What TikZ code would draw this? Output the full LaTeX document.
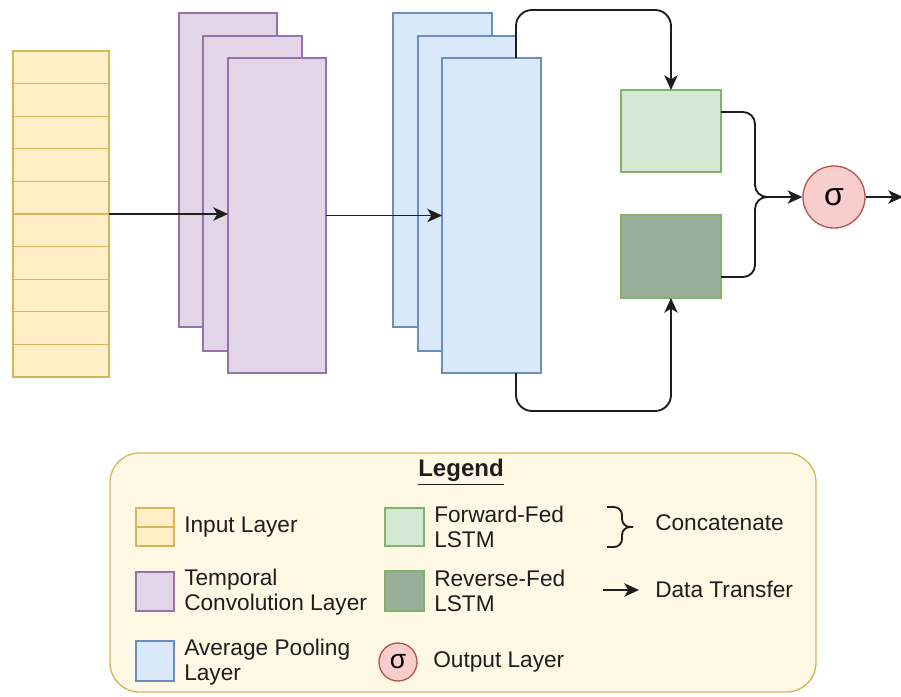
\documentclass[tikz,border=0pt]{standalone}
\usepackage{fontspec}
\setmainfont{Liberation Sans}
\usetikzlibrary{arrows.meta,fit}

\definecolor{inFill}{HTML}{FFEFC8}
\definecolor{inLine}{HTML}{D6B656}
\definecolor{legFill}{HTML}{FFF8E4}
\definecolor{cvFill}{HTML}{E1D5E7}
\definecolor{cvLine}{HTML}{9673A6}
\definecolor{plFill}{HTML}{DAE8FC}
\definecolor{plLine}{HTML}{6C8EBF}
\definecolor{fwFill}{HTML}{D5E8D4}
\definecolor{rvFill}{HTML}{9AAF99}
\definecolor{lsLine}{HTML}{82B366}
\definecolor{sgFill}{HTML}{F8CECC}
\definecolor{sgLine}{HTML}{B85450}
\definecolor{ink}{HTML}{1E1E1E}

\begin{document}
\begin{tikzpicture}[x=0.75pt,y=-0.75pt,
  layer/.style={draw, line width=1pt, inner sep=0pt, outer sep=0pt},
  inbox/.style={layer, draw=inLine, fill=inFill},
  convbox/.style={layer, draw=cvLine, fill=cvFill},
  poolbox/.style={layer, draw=plLine, fill=plFill},
  fwbox/.style={layer, draw=lsLine, fill=fwFill},
  rvbox/.style={layer, draw=lsLine, fill=rvFill},
  sigbox/.style={circle, draw=sgLine, fill=sgFill, line width=1pt, inner sep=0pt},
  legbox/.style={draw=inLine, fill=legFill, line width=1pt, inner sep=0pt, rounded corners=22pt},
  wire/.style={draw=ink, line width=1.4pt},
  flow/.style={wire, -{Stealth[length=11pt,width=10pt,inset=3pt]}},
  txt/.style={font=\fontsize{17}{19}\selectfont, text=ink, anchor=west, align=left, inner sep=0pt},
]
\useasboundingbox (0,0) rectangle (901,697);

% input layer: a column of ten cells
\foreach \i in {1,...,10}{
  \pgfmathsetmacro{\ya}{51+(\i-1)*32.6}
  \pgfmathsetmacro{\yb}{51+\i*32.6}
  \node[inbox, fit={(13,\ya) (109,\yb)}] (in\i) {};
}

% temporal convolution stack
\node[convbox, fit={(179,13) (277,327)}] (cb) {};
\node[convbox, fit={(203,36) (302,351)}] (cm) {};
\node[convbox, fit={(228,58) (326,373)}] (cf) {};

% average pooling stack
\node[poolbox, fit={(393,13) (492,327)}] (pb) {};
\node[poolbox, fit={(418,36) (516,351)}] (pm) {};
\node[poolbox, fit={(442,58) (541,373)}] (pf) {};

% LSTMs
\node[fwbox, fit={(621,90) (721,172)}] (fw) {};
\node[rvbox, fit={(621,215) (721,298)}] (rv) {};

% output
\node[sigbox, minimum size=46.5pt, font=\fontsize{24}{24}\selectfont] (sig) at (834,197) {σ};
\coordinate (cat) at (765,197);
\coordinate (out) at (903,197);

% data flow
\draw[flow] (in5.south east) -- (cf.west |- in5.south east);
\draw[flow] (cf.east) -- (pf.west);
\draw[flow, rounded corners=12pt] (pm.east |- pf.north) -- (pm.east |- 0,10) -- (fw.north |- 0,10) -- (fw.north);
\draw[flow, rounded corners=12pt] (pm.east |- pf.south) -- (pm.east |- 0,411) -- (rv.south |- 0,411) -- (rv.south);

% concatenation brace
\draw[wire, rounded corners=9pt] (fw.east |- 0,112) -- (755,112) -- (755,197) -- (cat);
\draw[wire, rounded corners=9pt] (rv.east |- 0,277) -- (755,277) -- (755,197) -- (cat);
\draw[flow] (cat) -- (sig.west);
\draw[flow] (sig.east) -- (out);

% legend
\node[legbox, fit={(110,453) (816,692)}] (legend) {};
\node[font=\fontsize{18}{18}\selectfont\bfseries, text=ink, inner sep=0pt] (legtitle) at (461,472) {\underline{Legend}};

\node[inbox, fit={(136,508) (174,527)}] (lin1) {};
\node[inbox, fit={(136,527) (174,546)}] (lin2) {};
\node[txt] (tin) at (184,527) {Input Layer};

\node[convbox, fit={(136,572) (174,611)}] (lcv) {};
\node[txt] (tcv) at (184,592) {Temporal\\Convolution Layer};

\node[poolbox, fit={(136,641) (174,681)}] (lpl) {};
\node[txt] (tpl) at (184,662) {Average Pooling\\Layer};

\node[fwbox, fit={(385,508) (424,546)}] (lfw) {};
\node[txt] (tfw) at (434,527) {Forward-Fed\\LSTM};

\node[rvbox, fit={(385,571) (424,611)}] (lrv) {};
\node[txt] (trv) at (434,591) {Reverse-Fed\\LSTM};

\node[sigbox, minimum size=28.5pt, font=\fontsize{20}{20}\selectfont] (lsig) at (398,662) {σ};
\node[txt] (tsig) at (433,662) {Output Layer};

\coordinate (lcat) at (633,527);
\draw[wire, rounded corners=6pt] (607,507) -- (622,507) -- (622,527) -- (lcat);
\draw[wire, rounded corners=6pt] (607,547) -- (622,547) -- (622,527) -- (lcat);
\node[txt] (tcat) at (655,523) {Concatenate};

\coordinate (la) at (603,590);
\coordinate (lb) at (639,590);
\draw[flow] (la) -- (lb);
\node[txt] (tdt) at (655,589) {Data Transfer};
\end{tikzpicture}
\end{document}
